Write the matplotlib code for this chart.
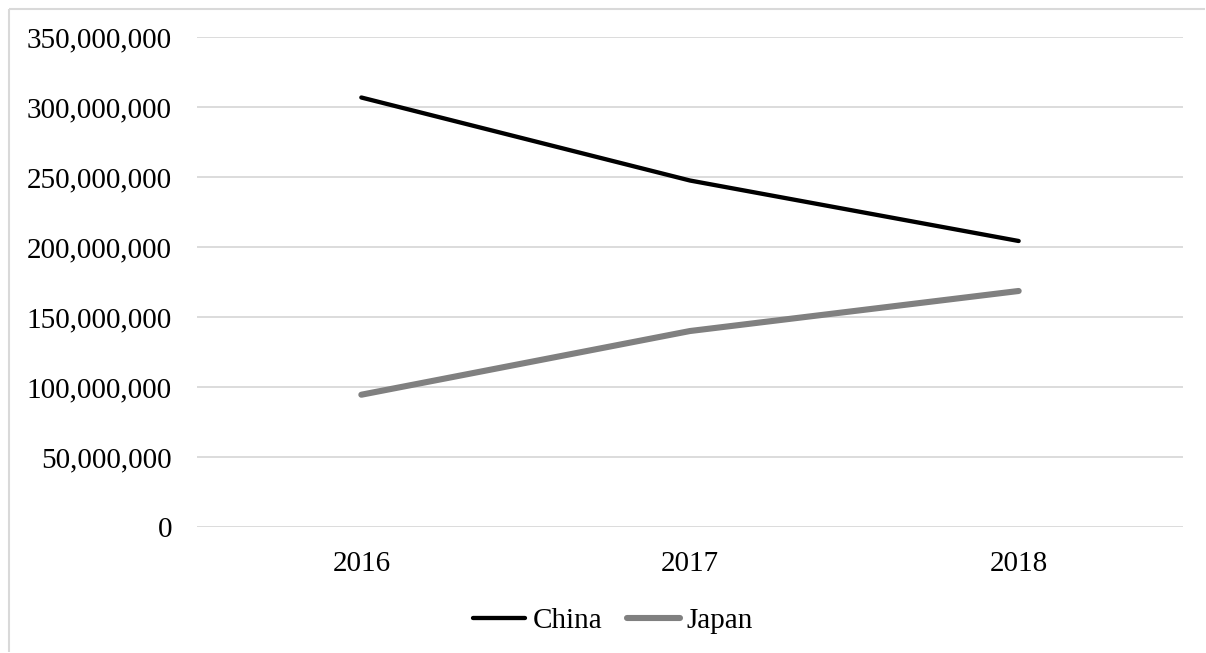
import matplotlib
matplotlib.use("Agg")
import matplotlib.pyplot as plt
from matplotlib.ticker import FuncFormatter, MultipleLocator
from matplotlib.lines import Line2D

years = ["2016", "2017", "2018"]
china = [307_000_000, 247_700_000, 204_500_000]
japan = [94_700_000, 140_200_000, 168_800_000]

W, H, DPI = 1206, 653, 100
plt.rcParams['font.family'] = ['Liberation Serif', 'DejaVu Serif']
fig = plt.figure(figsize=(W / DPI, H / DPI), dpi=DPI)

# chart border (cropped at right/bottom)
bx, by = 8.5 / W, 1 - 8.5 / H
fig.lines.append(Line2D([bx, 0.999], [by, by], transform=fig.transFigure,
                        color='#d9d9d9', linewidth=1.5, solid_capstyle='butt'))
fig.lines.append(Line2D([bx, bx], [0.001, by], transform=fig.transFigure,
                        color='#d9d9d9', linewidth=1.5, solid_capstyle='butt'))

left, right = 197 / W, 1183 / W
bottom, top = 1 - 527.3 / H, 1 - 37.3 / H
ax = fig.add_axes([left, bottom, right - left, top - bottom])

x = list(range(len(years)))
ax.plot(x, china, color='black', linewidth=3.1, solid_capstyle='round', label='China')
ax.plot(x, japan, color='#808080', linewidth=4.4, solid_capstyle='round', label='Japan')

ax.set_xlim(-0.5, len(years) - 0.5)
ax.set_ylim(0, 350_000_000)
ax.yaxis.set_major_locator(MultipleLocator(50_000_000))
ax.yaxis.set_major_formatter(FuncFormatter(lambda v, p: f"{int(v):,}"))
ax.set_xticks(x)
ax.set_xticklabels(years)
ax.grid(axis='y', color='#d9d9d9', linewidth=1.3)
ax.set_axisbelow(True)
for s in ax.spines.values():
    s.set_visible(False)
ax.tick_params(axis='both', length=0, labelsize=21, colors='black')
ax.tick_params(axis='y', pad=18)
ax.tick_params(axis='x', pad=17)

fig.legend(loc='center', bbox_to_anchor=(613 / W, 1 - 621 / H), ncol=2, frameon=False,
           fontsize=21, handlelength=1.8, handletextpad=0.25, columnspacing=0.85)

fig.savefig("out.png", dpi=DPI)
